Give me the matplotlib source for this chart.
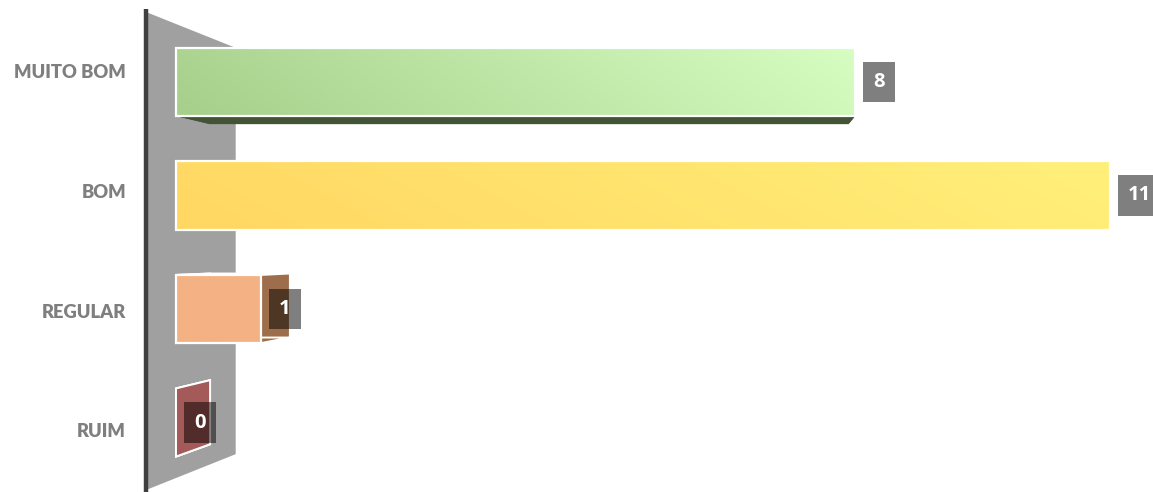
"""3D-style horizontal bar chart: MUITO BOM / BOM / REGULAR / RUIM."""

import matplotlib
matplotlib.use("Agg")
import matplotlib.pyplot as plt  # noqa: E402
import numpy as np  # noqa: E402
from matplotlib.colors import LinearSegmentedColormap  # noqa: E402
from matplotlib.patches import Polygon  # noqa: E402

categories = ["MUITO BOM", "BOM", "REGULAR", "RUIM"]
values = [8, 11, 1, 0]

# styles (kept apart from the data)
front_left = ["#a6cf8b", "#ffd762", "#f4b183", "#a65a5a"]
front_right = ["#d6fec2", "#fff07a", "#f4b385", "#a65a5a"]
side_colors = ["#435436", "#c9c3a8", "#9e6d4b", "#a45a58"]

# layout: 1 value unit = 84.9 px, value 0 at x=176 px, rows every 113.5 px
PX_PER_UNIT = 84.9
X0_PX = 176
ROW_PX = 113.5
ROW0_PX = 82
W, H = 1153, 492
VP = np.array([6.69, 1.489])     # vanishing point (data coords)
BAR_DEPTH = 0.06                 # screen-space depth of the bars
WALL_DEPTH = 0.15
BAR_H = 0.6


def back(pts, depth):
    pts = np.asarray(pts, float)
    return pts + depth * (VP - pts)


def gradient_fill(ax, poly, c0, c1):
    cmap = LinearSegmentedColormap.from_list("g", [c0, c1])
    xs = poly[:, 0]
    ys = poly[:, 1]
    u = np.linspace(0, 1, 256)[None, :]
    v = np.linspace(0, 1, 64)[:, None]
    img = 0.88 * u + 0.12 * (1 - v)
    im = ax.imshow(img, cmap=cmap, vmin=0, vmax=1, aspect="auto",
                   extent=(xs.min(), xs.max(), ys.max(), ys.min()),
                   interpolation="bilinear", zorder=3)
    patch = Polygon(poly, closed=True, fc="none", ec="white", lw=1.6, zorder=4)
    ax.add_patch(patch)
    im.set_clip_path(patch)


def main():
    fig = plt.figure(figsize=(W / 100, H / 100), dpi=100)
    ax = fig.add_axes([0, 0, 1, 1])
    ax.set_xlim(-X0_PX / PX_PER_UNIT, (W - X0_PX) / PX_PER_UNIT)
    ax.set_ylim((H - ROW0_PX) / ROW_PX, -ROW0_PX / ROW_PX)
    ax.axis("off")

    # back wall at value 0
    wx = (146 - X0_PX) / PX_PER_UNIT
    wtop = (12 - ROW0_PX) / ROW_PX
    wbot = (490 - ROW0_PX) / ROW_PX
    front = np.array([[wx, wtop], [wx, wbot]])
    bk = back(front, WALL_DEPTH)
    wall = np.array([front[0], bk[0], bk[1], front[1]])
    ax.add_patch(Polygon(wall, closed=True, fc="#a0a0a0", ec="none", zorder=1))
    ax.plot([wx, wx], [(9 - ROW0_PX) / ROW_PX, (H - ROW0_PX) / ROW_PX],
            color="#3f3f3f", lw=3.2, solid_capstyle="butt", zorder=2)

    for i, (cat, val) in enumerate(zip(categories, values)):
        y0, y1 = i - BAR_H / 2, i + BAR_H / 2
        f = np.array([[0, y0], [val, y0], [val, y1], [0, y1]], float)
        b = back(f, BAR_DEPTH)
        # side faces first; hidden ones end up under the front face
        for k in range(4):
            j = (k + 1) % 4
            face = np.array([f[k], f[j], b[j], b[k]])
            ec = "white" if val < 2 else "none"
            ax.add_patch(Polygon(face, closed=True, fc=side_colors[i],
                                 ec=ec, lw=1.4, zorder=2.5))
        if val > 0:
            gradient_fill(ax, f, front_left[i], front_right[i])

        ax.annotate(str(val), xy=(val, i), xytext=(13, 0),
                    textcoords="offset points", ha="left", va="center",
                    fontsize=14.5, fontweight="bold", color="white",
                    family=["Open Sans", "DejaVu Sans"], zorder=6,
                    bbox=dict(boxstyle="square,pad=0.5", fc="black",
                              ec="none", alpha=0.5))

        ly = VP[1] + (i - VP[1]) * 1.055
        ax.text((126 - X0_PX) / PX_PER_UNIT, ly, cat, ha="right", va="center",
                fontsize=13.2, fontweight="heavy", color="#7f7f7f",
                family=["Lato", "DejaVu Sans"], zorder=6)

    fig.savefig("out.png", dpi=100)
    plt.close(fig)


if __name__ == "__main__":
    main()
